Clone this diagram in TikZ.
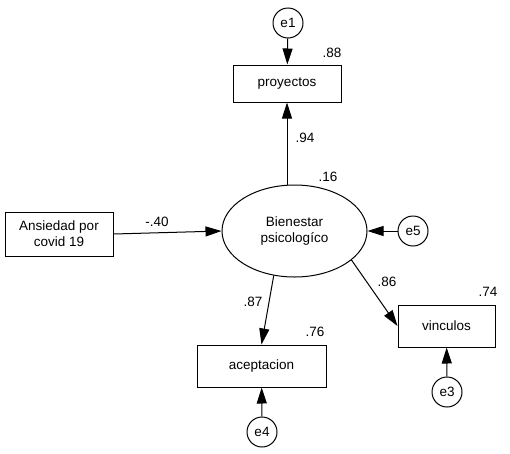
\documentclass[tikz,border=0pt]{standalone}
\usepackage{fontspec}
\setmainfont{Liberation Sans}
\usetikzlibrary{arrows.meta,shapes.geometric}
\begin{document}
\begin{tikzpicture}[x=1pt,y=-1pt,
  font=\fontsize{13.5}{16}\selectfont,
  obs/.style={draw,line width=1pt,rectangle,inner sep=0pt,align=center},
  err/.style={draw,line width=1pt,circle,inner sep=0pt,minimum size=30pt},
  lat/.style={draw,line width=1pt,ellipse,inner sep=0pt,minimum width=145pt,minimum height=92pt,align=center},
  path/.style={line width=1pt,-{Triangle[length=16pt,width=10pt]}},
  coef/.style={inner sep=0pt}]
\useasboundingbox (0,0) rectangle (510,453);
\fill[white] (0,0) rectangle (510,453);
% nodes
\node[lat] (bien) at (294.5,231) {Bienestar\\psicologíco};
\node[obs,minimum width=108pt,minimum height=37pt] (prov) at (287,83.5) {proyectos};
\node[obs,minimum width=108pt,minimum height=44pt] (ans) at (59,234) {Ansiedad por\\covid 19};
\node[obs,minimum width=129pt,minimum height=42pt] (acep) at (261.5,366) {aceptacion};
\node[obs,minimum width=97pt,minimum height=42pt] (vinc) at (446.5,326) {vinculos};
\node[err] (e1) at (288,23) {e1};
\node[err] (e5) at (413,231) {e5};
\node[err] (e3) at (447,392) {e3};
\node[err] (e4) at (262,432) {e4};
% connectors
\draw[path] (e1) -- (prov);
\draw[path] (bien.north -| prov.south) -- (prov.south);
\draw[path] (ans.east) -- (bien.west);
\draw[path] (e5) -- (bien.east);
\draw[path] (bien.245) -- (acep.north);
\draw[path] (bien.-27) -- (vinc.west);
\draw[path] (e3) -- (vinc);
\draw[path] (e4) -- (acep);
% coefficients
\node[coef] (c88) at (332,53) {.88};
\node[coef] (c94) at (305,138) {.94};
\node[coef] (c16) at (328,177) {.16};
\node[coef] (c40) at (157,222) {-.40};
\node[coef] (c86) at (387,282) {.86};
\node[coef] (c74) at (488,292) {.74};
\node[coef] (c87) at (253,302) {.87};
\node[coef] (c76) at (315,332) {.76};
\end{tikzpicture}
\end{document}
